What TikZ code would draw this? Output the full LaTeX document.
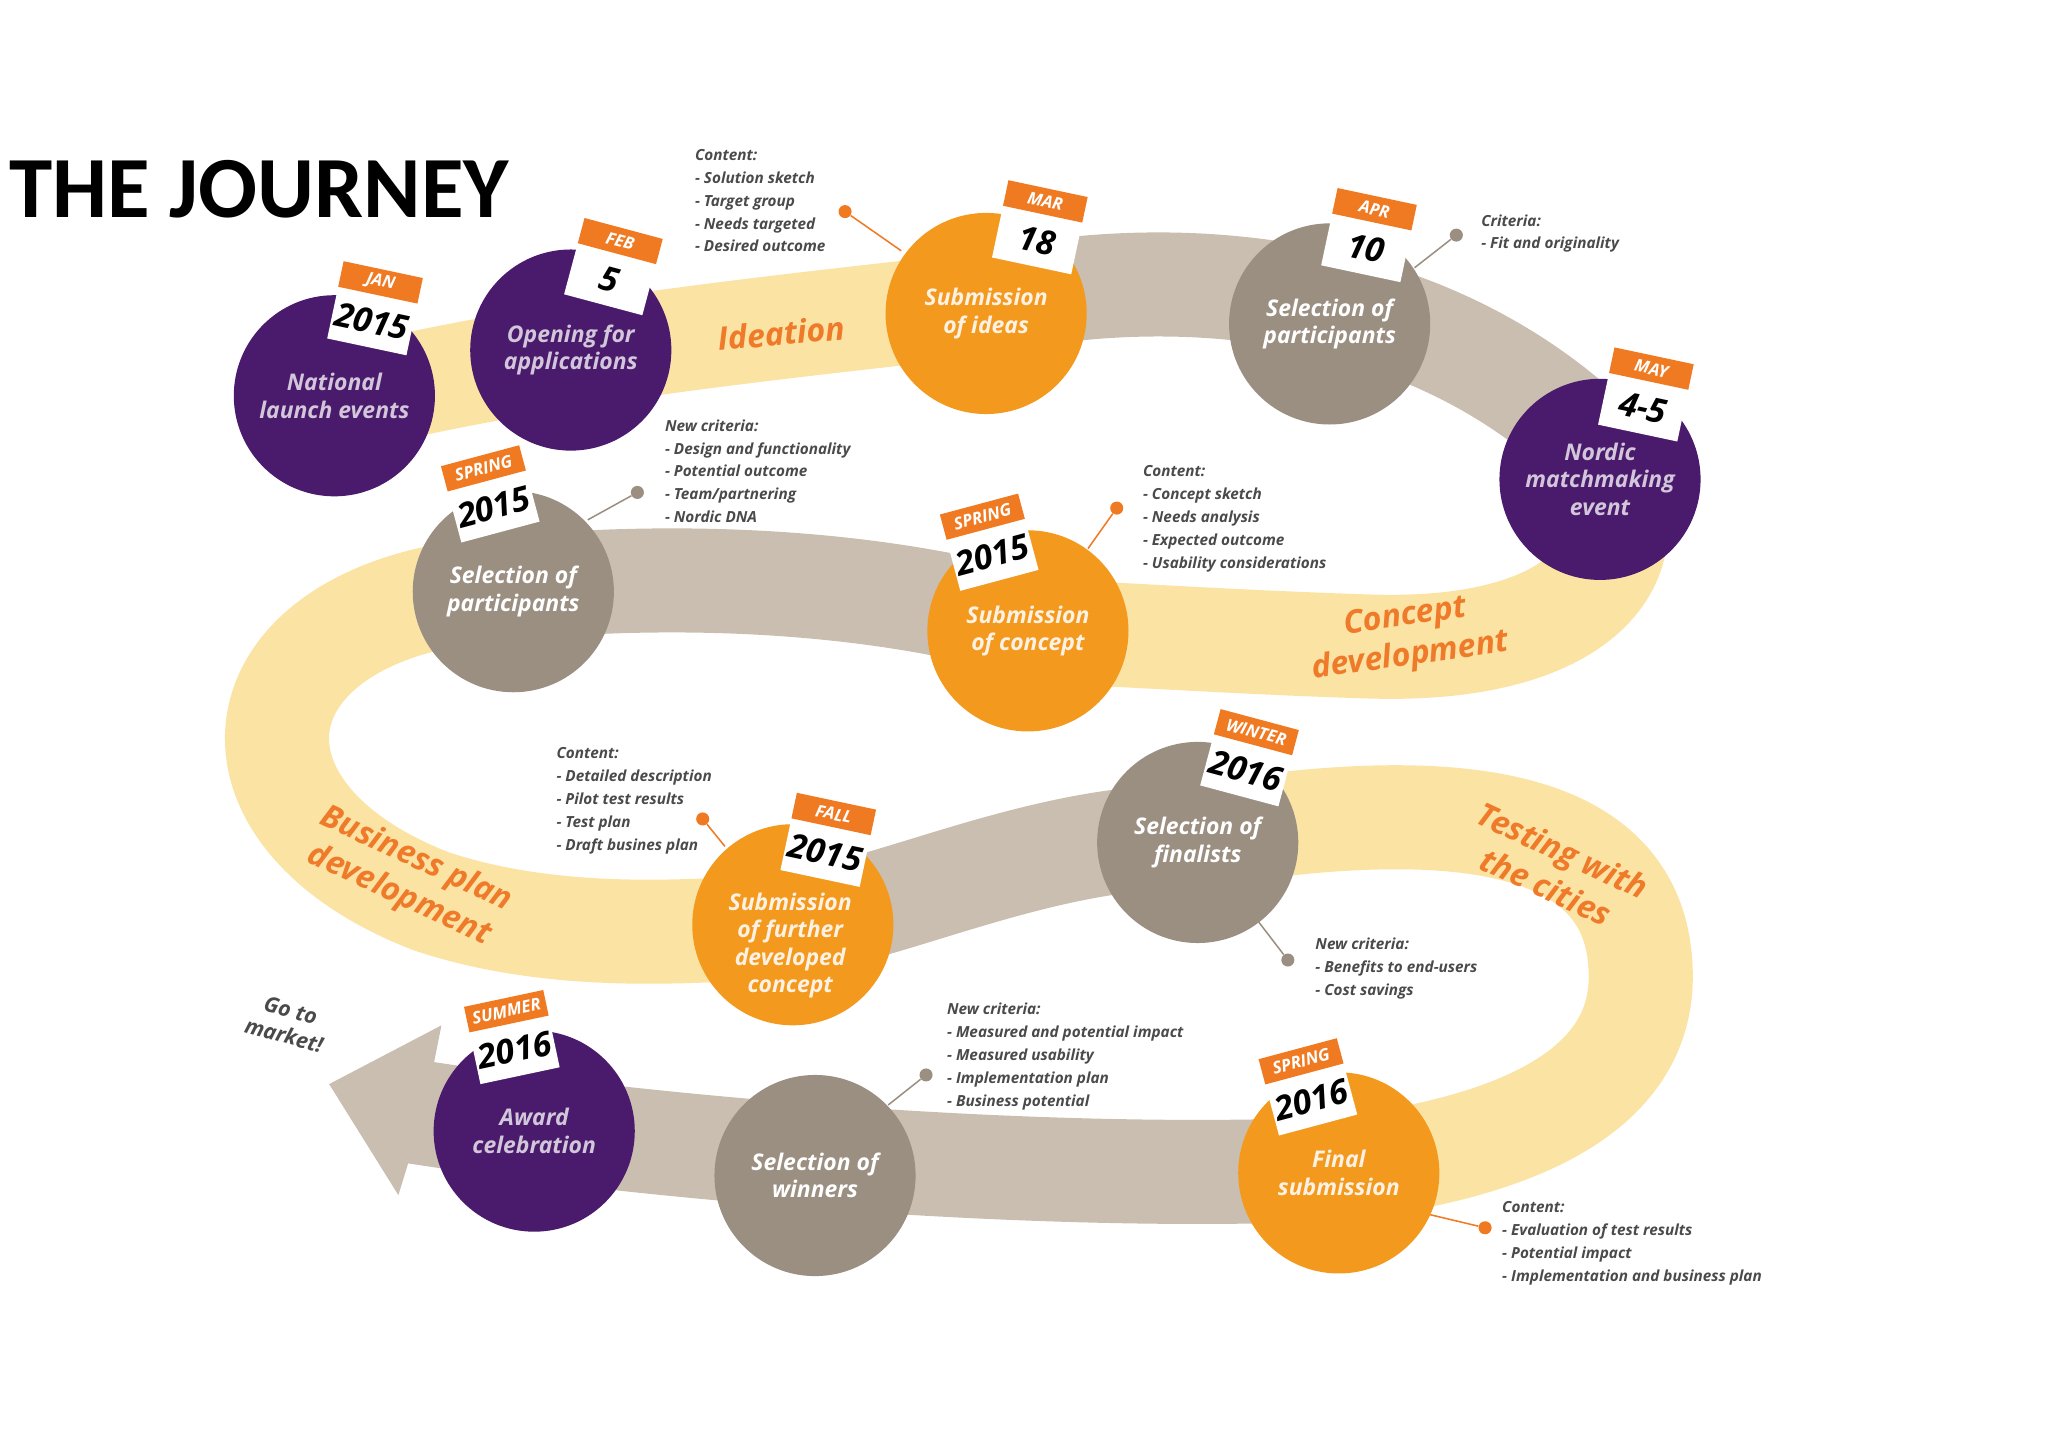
\documentclass[tikz,border=0pt]{standalone}
\usepackage{fontspec}
\setmainfont{Open Sans}
\newfontfamily\titlefont{Carlito}
\begin{document}
\definecolor{band}{HTML}{FBE3A4}
\definecolor{bandg}{HTML}{C9BEB0}
\definecolor{pur}{HTML}{4A1A6C}
\definecolor{org}{HTML}{F39A1E}
\definecolor{gry}{HTML}{9B8F82}
\definecolor{tago}{HTML}{F07A22}
\definecolor{txt}{HTML}{4A4A4A}
\definecolor{lab}{HTML}{EE7A2A}
\begin{tikzpicture}[x=0.03cm,y=-0.03cm,
  bd/.style={line width=68pt,line cap=butt},
  circ/.style={circle,minimum size=4.62cm,inner sep=0pt,align=center,font=\fontsize{15}{18}\selectfont\itshape\bfseries},
  cp/.style={circ,fill=pur,text=pur!25},
  co/.style={circ,fill=org,text=orange!10},
  cg/.style={circ,fill=gry,text=white},
  tagb/.style={fill=white,minimum width=1.86cm,minimum height=1.2cm,inner sep=0pt,font=\fontsize{22}{22}\selectfont\itshape\bfseries,text=black},
  tagt/.style={fill=tago,minimum width=1.86cm,minimum height=0.6cm,inner sep=0pt,anchor=south,font=\fontsize{11}{11}\selectfont\itshape\bfseries,text=white},
  note/.style={anchor=north west,align=left,text=txt,font=\fontsize{10}{15}\selectfont\itshape\bfseries},
  blab/.style={text=lab,align=center,font=\fontsize{21}{26}\selectfont\itshape\bfseries},
  dot/.style={circle,inner sep=0pt,minimum size=0.3cm},
  ln/.style={line width=1pt}]
\useasboundingbox (0,0) rectangle (1568,1107);
\node[anchor=west,font=\titlefont\bfseries\fontsize{57}{57}\selectfont] (title) at (3,145) {THE JOURNEY};
% bands
\draw[bd,band] (250,310) .. controls (400,270) and (600,250) .. (760,232);
\draw[bd,bandg] (755,232) .. controls (900,200) and (1100,215) .. (1230,350);
\draw[bd,band] (1222,360) .. controls (1265,420) and (1220,500) .. (1050,495) .. controls (950,492) and (850,485) .. (787,483);
\draw[bd,bandg] (787,478) .. controls (650,440) and (500,440) .. (393,450);
\draw[bd,band] (393,450) .. controls (180,460) and (150,620) .. (330,690) .. controls (420,720) and (520,715) .. (607,708);
\draw[bd,bandg] (607,708) .. controls (700,690) and (800,640) .. (917,640);
\draw[bd,band] (917,640) .. controls (1100,610) and (1250,620) .. (1256,740) .. controls (1262,840) and (1150,880) .. (1025,895);
\draw[bd,bandg] (1025,895) .. controls (800,905) and (500,880) .. (310,850);
\fill[bandg] (252,830) -- (338,785) -- (325,850) -- (305,915) -- cycle;
% band labels
\node[blab,rotate=5] (l1) at (598,255) {Ideation};
\node[blab,rotate=8] (l2) at (1078,488) {Concept\\development};
\node[blab,rotate=-25] (l3) at (312,672) {Business plan\\development};
\node[blab,rotate=-25] (l4) at (1190,665) {Testing with\\the cities};
\node[text=txt,align=center,rotate=-15,font=\fontsize{14}{17}\selectfont\itshape\bfseries] (go) at (220,783) {Go to\\market!};
% callout lines
\node[dot,fill=tago] (d1) at (647,162) {}; \draw[ln,tago] (d1) -- (690,192);
\node[dot,fill=gry] (d2) at (1115,180) {}; \draw[ln,gry] (d2) -- (1083,205);
\node[dot,fill=gry] (d3) at (488,377) {}; \draw[ln,gry] (d3) -- (450,398);
\node[dot,fill=tago] (d4) at (855,389) {}; \draw[ln,tago] (d4) -- (833,420);
\node[dot,fill=tago] (d5) at (538,627) {}; \draw[ln,tago] (d5) -- (555,648);
\node[dot,fill=gry] (d6) at (986,735) {}; \draw[ln,gry] (d6) -- (963,705);
\node[dot,fill=gry] (d7) at (709,823) {}; \draw[ln,gry] (d7) -- (680,846);
\node[dot,fill=tago] (d8) at (1137,940) {}; \draw[ln,tago] (d8) -- (1095,930);
% circles
\node[cp] (n1) at (256,303) {National\\launch events};
\node[cp] (n2) at (437,268) {Opening for\\applications};
\node[co] (n3) at (755,240) {Submission\\of ideas};
\node[cg] (n4) at (1018,248) {Selection of\\participants};
\node[cp] (n5) at (1225,367) {Nordic\\matchmaking\\event};
\node[cg] (n6) at (393,453) {Selection of\\participants};
\node[co] (n7) at (787,483) {Submission\\of concept};
\node[cg] (n8) at (917,645) {Selection of\\finalists};
\node[co] (n9) at (607,708) {};
\node[align=center,text=orange!10,font=\fontsize{15}{18}\selectfont\itshape\bfseries] (n9t) at (605,724) {Submission\\of further\\developed\\concept};
\node[cp] (n10) at (409,866) {Award\\celebration};
\node[cg] (n11) at (624,900) {Selection of\\winners};
\node[co] (n12) at (1025,898) {Final\\submission};
% tags
\node[tagb,rotate=-12] (t1) at (285,246) {2015}; \node[tagt,rotate=-12] (u1) at (t1.north) {JAN};
\node[tagb,rotate=-15] (t2) at (467,214) {5}; \node[tagt,rotate=-15] (u2) at (t2.north) {FEB};
\node[tagb,rotate=-12] (t3) at (794,184) {18}; \node[tagt,rotate=-12] (u3) at (t3.north) {MAR};
\node[tagb,rotate=-12] (t4) at (1046,190) {10}; \node[tagt,rotate=-12] (u4) at (t4.north) {APR};
\node[tagb,rotate=-12] (t5) at (1258,312) {4-5}; \node[tagt,rotate=-12] (u5) at (t5.north) {MAY};
\node[tagb,rotate=15] (t6) at (378,388) {2015}; \node[tagt,rotate=15] (u6) at (t6.north) {SPRING};
\node[tagb,rotate=15] (t7) at (760,425) {2015}; \node[tagt,rotate=15] (u7) at (t7.north) {SPRING};
\node[tagb,rotate=-15] (t8) at (954,590) {2016}; \node[tagt,rotate=-15] (u8) at (t8.north) {WINTER};
\node[tagb,rotate=-12] (t9) at (632,653) {2015}; \node[tagt,rotate=-12] (u9) at (t9.north) {FALL};
\node[tagb,rotate=12] (t10) at (394,804) {2016}; \node[tagt,rotate=12] (u10) at (t10.north) {SUMMER};
\node[tagb,rotate=15] (t11) at (1004,842) {2016}; \node[tagt,rotate=15] (u11) at (t11.north) {SPRING};
% notes
\node[note] (a1) at (528,110) {Content:\\- Solution sketch\\- Target group\\- Needs targeted\\- Desired outcome};
\node[note] (a2) at (1130,160) {Criteria:\\- Fit and originality};
\node[note] (a3) at (505,317) {New criteria:\\- Design and functionality\\- Potential outcome\\- Team/partnering\\- Nordic DNA};
\node[note] (a4) at (871,352) {Content:\\- Concept sketch\\- Needs analysis\\- Expected outcome\\- Usability considerations};
\node[note] (a5) at (422,568) {Content:\\- Detailed description\\- Pilot test results\\- Test plan\\- Draft busines plan};
\node[note] (a6) at (1003,714) {New criteria:\\- Benefits to end-users\\- Cost savings};
\node[note] (a7) at (721,764) {New criteria:\\- Measured and potential impact\\- Measured usability\\- Implementation plan\\- Business potential};
\node[note] (a8) at (1146,916) {Content:\\- Evaluation of test results\\- Potential impact\\- Implementation and business plan};
\end{tikzpicture}
\end{document}
